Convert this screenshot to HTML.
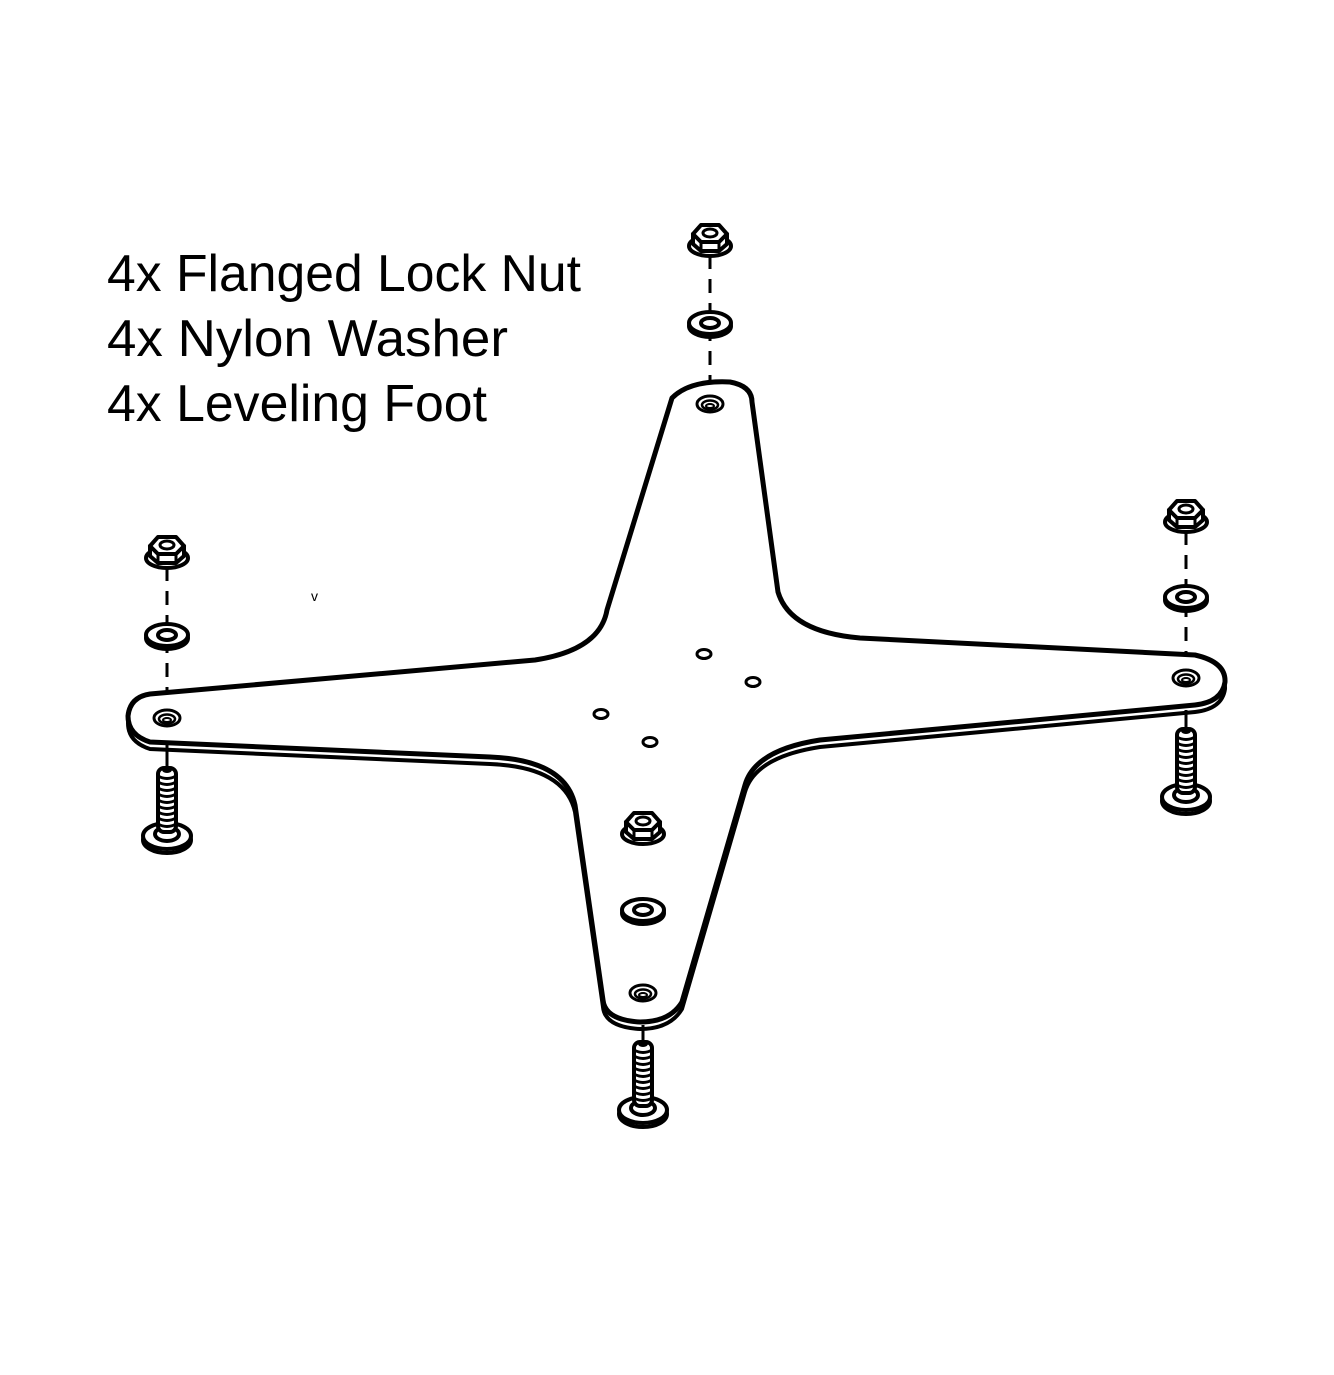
<!DOCTYPE html>
<html><head><meta charset="utf-8"><style>html,body{margin:0;padding:0;background:#fff}svg{display:block}</style></head>
<body>
<svg width="1334" height="1375" viewBox="0 0 1334 1375" xmlns="http://www.w3.org/2000/svg">
<defs>
<g id="nut">
  <ellipse cx="0" cy="8" rx="21" ry="10" fill="#fff" stroke="#000" stroke-width="4"/>
  <path d="M-17,-4 L-17,6 L-9,13 L9,13 L17,6 L17,-4 Z" fill="#fff" stroke="#000" stroke-width="4" stroke-linejoin="round"/>
  <path d="M-17,-4 L-9,-13 L9,-13 L17,-4 L9,4 L-9,4 Z" fill="#fff" stroke="#000" stroke-width="4" stroke-linejoin="round"/>
  <line x1="-9" y1="4" x2="-9" y2="13" stroke="#000" stroke-width="3"/>
  <line x1="9" y1="4" x2="9" y2="13" stroke="#000" stroke-width="3"/>
  <ellipse cx="0" cy="-5" rx="7" ry="4" fill="#fff" stroke="#000" stroke-width="3"/>
</g>
<g id="washer">
  <ellipse cx="0" cy="3" rx="21" ry="11" fill="#fff" stroke="#000" stroke-width="4"/>
  <ellipse cx="0" cy="0" rx="21" ry="11" fill="#fff" stroke="#000" stroke-width="4"/>
  <ellipse cx="0" cy="0" rx="9" ry="5" fill="#fff" stroke="#000" stroke-width="4"/>
</g>
<g id="hole">
  <ellipse cx="0" cy="0" rx="13" ry="8" fill="#fff" stroke="#000" stroke-width="3"/>
  <ellipse cx="0" cy="1" rx="8" ry="4.5" fill="none" stroke="#000" stroke-width="2.5"/>
  <ellipse cx="0" cy="2" rx="4" ry="2" fill="none" stroke="#000" stroke-width="2"/>
</g>
<g id="foot">
  <ellipse cx="0" cy="4" rx="24" ry="13" fill="#fff" stroke="#000" stroke-width="4"/>
  <ellipse cx="0" cy="0" rx="24" ry="13" fill="#fff" stroke="#000" stroke-width="4"/>
  <ellipse cx="0" cy="-2" rx="12" ry="7" fill="#fff" stroke="#000" stroke-width="4"/>
  <rect x="-9" y="-68" width="18" height="64" rx="6" fill="#fff" stroke="#000" stroke-width="4"/>
  <g stroke="#000" stroke-width="3" fill="none">
    <path d="M-9,-60 Q0,-55 9,-60"/><path d="M-9,-54 Q0,-49 9,-54"/><path d="M-9,-48 Q0,-43 9,-48"/>
    <path d="M-9,-42 Q0,-37 9,-42"/><path d="M-9,-36 Q0,-31 9,-36"/><path d="M-9,-30 Q0,-25 9,-30"/>
    <path d="M-9,-24 Q0,-19 9,-24"/><path d="M-9,-18 Q0,-13 9,-18"/><path d="M-9,-12 Q0,-7 9,-12"/>
  </g>
  <ellipse cx="0" cy="-66" rx="5" ry="3" fill="#000"/>
</g>
</defs>

<text x="107" y="291" font-family="Liberation Sans, sans-serif" font-size="52" textLength="474" lengthAdjust="spacingAndGlyphs">4x Flanged Lock Nut</text>
<text x="107" y="356" font-family="Liberation Sans, sans-serif" font-size="52" textLength="401" lengthAdjust="spacingAndGlyphs">4x Nylon Washer</text>
<text x="107" y="421" font-family="Liberation Sans, sans-serif" font-size="52" textLength="380" lengthAdjust="spacingAndGlyphs">4x Leveling Foot</text>
<text x="311" y="601" font-family="Liberation Sans, sans-serif" font-size="14">v</text>

<!-- dashed axes -->
<g stroke="#000" stroke-width="3" stroke-dasharray="14,10" fill="none">
  <line x1="710" y1="255" x2="710" y2="400"/>
  <line x1="167" y1="567" x2="167" y2="714"/>
  <line x1="1186" y1="531" x2="1186" y2="674"/>
  <line x1="643" y1="843" x2="643" y2="989"/>
</g>

<!-- plate thickness -->
<path transform="translate(0,7)" d="M672,398 Q690,380 730,382 Q752,386 752,402 L778,592 Q790,632 860,638 L1195,655 Q1226,662 1225,682 Q1222,702 1195,705 L820,740 Q755,750 745,785 L682,1002 Q670,1022 640,1022 Q605,1020 603,1000 L575,805 Q565,760 490,757 L150,742 Q128,735 128,716 Q130,697 150,694 L535,660 Q600,650 607,610 Z" fill="#fff" stroke="#000" stroke-width="4" stroke-linejoin="round"/>
<!-- plate top -->
<path d="M672,398 Q690,380 730,382 Q752,386 752,402 L778,592 Q790,632 860,638 L1195,655 Q1226,662 1225,682 Q1222,702 1195,705 L820,740 Q755,750 745,785 L682,1002 Q670,1022 640,1022 Q605,1020 603,1000 L575,805 Q565,760 490,757 L150,742 Q128,735 128,716 Q130,697 150,694 L535,660 Q600,650 607,610 Z" fill="#fff" stroke="#000" stroke-width="5" stroke-linejoin="round"/>

<g fill="#fff" stroke="#000" stroke-width="3">
  <ellipse cx="704" cy="654" rx="7" ry="4.5"/>
  <ellipse cx="753" cy="682" rx="7" ry="4.5"/>
  <ellipse cx="601" cy="714" rx="7" ry="4.5"/>
  <ellipse cx="650" cy="742" rx="7" ry="4.5"/>
</g>

<use href="#hole" x="710" y="404"/>
<use href="#hole" x="167" y="718"/>
<use href="#hole" x="1186" y="678"/>
<use href="#hole" x="643" y="993"/>

<g stroke="#000" stroke-width="3">
  <line x1="167" y1="745" x2="167" y2="768"/>
  <line x1="1186" y1="710" x2="1186" y2="728"/>
  <line x1="643" y1="1025" x2="643" y2="1043"/>
</g>

<use href="#washer" x="710" y="323"/>
<use href="#washer" x="167" y="635"/>
<use href="#washer" x="1186" y="597"/>
<use href="#washer" x="643" y="910"/>

<use href="#nut" x="710" y="238"/>
<use href="#nut" x="167" y="550"/>
<use href="#nut" x="1186" y="514"/>
<use href="#nut" x="643" y="826"/>

<use href="#foot" x="167" y="836"/>
<use href="#foot" x="1186" y="797"/>
<use href="#foot" x="643" y="1110"/>
</svg>
</body></html>
